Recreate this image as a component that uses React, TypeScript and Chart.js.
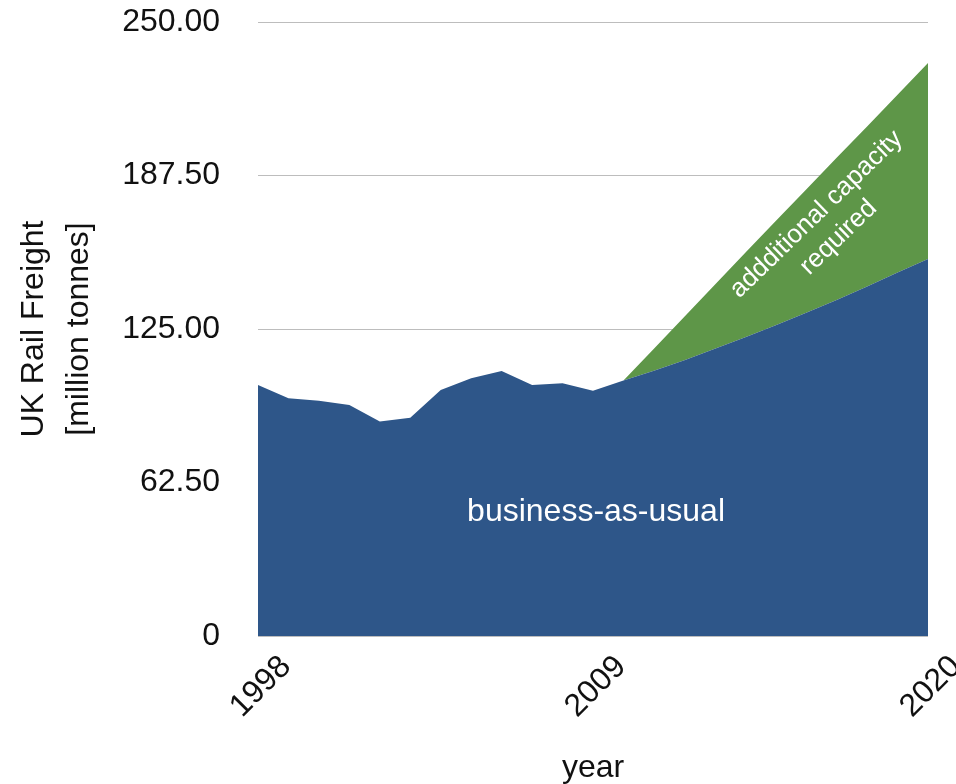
import React, { useEffect, useRef } from "react";
import { Chart, registerables } from "chart.js";

Chart.register(...registerables);

const years = [1998, 1999, 2000, 2001, 2002, 2003, 2004, 2005, 2006, 2007, 2008, 2009, 2010, 2011, 2012, 2013, 2014, 2015, 2016, 2017, 2018, 2019, 2020];
const businessAsUsual = [102.2, 96.8, 95.8, 94.1, 87.3, 88.9, 100.2, 104.9, 107.9, 102.2, 102.9, 99.9, 104.0, 108.0, 112.3, 117.0, 121.6, 126.5, 131.6, 136.8, 142.3, 148.0, 153.5];
const withAdditionalCapacity = [null, null, null, null, null, null, null, null, null, null, null, null, 104.0, 117.0, 130.0, 143.0, 156.0, 169.0, 181.8, 194.7, 207.5, 220.4, 233.3];
const xTickYears = [1998, 2009, 2020];
const yTicks = [0, 62.5, 125, 187.5, 250];

const FONT = "'Liberation Sans', Arial, Helvetica, sans-serif";
const BLUE = "#2E5689";
const GREEN = "#5E9648";

const labelsPlugin = {
  id: "areaLabels",
  afterDatasetsDraw(chart: any) {
    const { ctx, scales } = chart;
    const xs = scales.x;
    const ys = scales.y;
    ctx.save();
    ctx.fillStyle = "#ffffff";
    ctx.textAlign = "center";
    ctx.textBaseline = "middle";
    ctx.font = `32px ${FONT}`;
    ctx.fillText("business-as-usual", xs.getPixelForValue(2009.1), ys.getPixelForValue(50.5));
    ctx.translate(xs.getPixelForValue(2016.7), ys.getPixelForValue(167));
    ctx.rotate((-44 * Math.PI) / 180);
    ctx.font = `26px ${FONT}`;
    ctx.fillText("addditional capacity", 0, -16);
    ctx.fillText("required", 0, 16);
    ctx.restore();
  },
};

export default function App() {
  const ref = useRef<HTMLCanvasElement | null>(null);
  useEffect(() => {
    document.body.style.margin = "0";
    if (!ref.current) return;
    const chart = new Chart(ref.current, {
      type: "line",
      data: {
        datasets: [
          {
            label: "business-as-usual",
            data: years.map((y, i) => ({ x: y, y: businessAsUsual[i] })),
            backgroundColor: BLUE,
            borderColor: BLUE,
            borderWidth: 0,
            pointRadius: 0,
            fill: "origin",
            tension: 0,
          },
          {
            label: "additional capacity required",
            data: years.map((y, i) => ({ x: y, y: withAdditionalCapacity[i] })),
            backgroundColor: GREEN,
            borderColor: GREEN,
            borderWidth: 0,
            pointRadius: 0,
            fill: "-1",
            tension: 0,
            spanGaps: false,
          },
        ],
      },
      options: {
        responsive: false,
        animation: false,
        layout: { padding: { left: 0, right: 28, top: 22, bottom: 0 } },
        plugins: { legend: { display: false }, tooltip: { enabled: false } },
        scales: {
          x: {
            type: "linear",
            min: 1998,
            max: 2020,
            afterBuildTicks: (scale: any) => {
              scale.ticks = xTickYears.map((v) => ({ value: v }));
            },
            afterFit: (scale: any) => {
              scale.height = 148;
              scale.paddingLeft = 0;
              scale.paddingRight = 0;
            },
            grid: { display: false, drawTicks: false },
            border: { display: false },
            ticks: {
              autoSkip: false,
              minRotation: 45,
              maxRotation: 45,
              labelOffset: 28,
              padding: 12,
              color: "#111",
              font: { family: FONT, size: 32 },
              callback: (v: any) => String(v),
            },
            title: {
              display: true,
              text: "year",
              color: "#111",
              font: { family: FONT, size: 32, lineHeight: 1 },
              padding: 0,
            },
          },
          y: {
            type: "linear",
            min: 0,
            max: 250,
            afterBuildTicks: (scale: any) => {
              scale.ticks = yTicks.map((v) => ({ value: v }));
            },
            afterFit: (scale: any) => {
              scale.width = 258;
              scale.paddingTop = 16;
              scale.paddingBottom = 0;
            },
            grid: { color: "#bdbdbd", lineWidth: 1, drawTicks: false },
            border: { display: false },
            ticks: {
              padding: 38,
              color: "#111",
              font: { family: FONT, size: 32 },
              callback: (v: any) => (v === 0 ? "0" : Number(v).toFixed(2)),
            },
            title: {
              display: true,
              text: ["UK Rail Freight", "[million tonnes]"],
              color: "#111",
              font: { family: FONT, size: 32, lineHeight: 1.4 },
              padding: { top: 12, bottom: 0 },
            },
          },
        },
      },
      plugins: [labelsPlugin],
    });
    return () => chart.destroy();
  }, []);
  return (
    <div style={{ width: 956, height: 784 }}>
      <canvas ref={ref} width={956} height={784} />
    </div>
  );
}
